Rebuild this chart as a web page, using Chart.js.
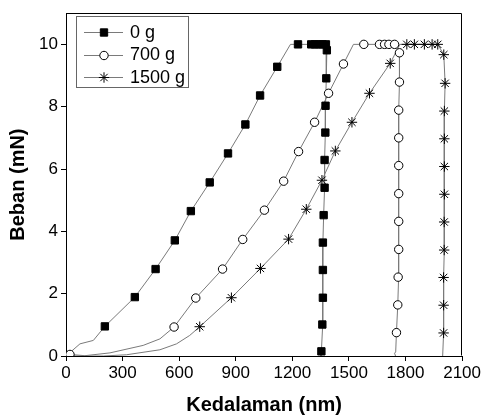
<!DOCTYPE html>
<html><head><meta charset="utf-8">
<script src="https://cdn.jsdelivr.net/npm/chart.js@4"></script>
<style>html,body{margin:0;padding:0;background:#fff}</style>
</head><body>
<canvas id="c" width="483" height="419"></canvas>
<script>
const xTickValues = [0,300,600,900,1200,1500,1800,2100];
const yTickValues = [0,2,4,6,8,10];
const seriesNames = ['0 g','700 g','1500 g'];

// 0 g : markers
const m0x = [206,365,475,577,662,762,859,951,1029,1120,1230,1300,1320,1340,1360,1378,1383,1380,1376,1375,1371,1371,1366,1362,1362,1362,1359,1354];
const m0y = [0.95,1.89,2.79,3.71,4.65,5.57,6.50,7.43,8.36,9.28,10,10,10,10,10,10,9.81,8.91,8.03,7.17,6.29,5.40,4.52,3.64,2.76,1.87,1.01,0.15];
// 0 g : continuous curve
const c0x = [0,74,145,206,365,475,577,662,762,859,951,1029,1120,1190,1230,1378,1383,1380,1376,1375,1371,1371,1366,1362,1362,1362,1359,1354,1352];
const c0y = [0,0.39,0.50,0.95,1.89,2.79,3.71,4.65,5.57,6.50,7.43,8.36,9.28,10,10,10,9.81,8.91,8.03,7.17,6.29,5.40,4.52,3.64,2.76,1.87,1.01,0.15,0];

// 700 g : markers
const m1x = [21,573,688,830,937,1052,1154,1233,1318,1392,1471,1579,1662,1689,1712,1742,1768,1768,1764,1764,1764,1764,1764,1764,1761,1759,1752];
const m1y = [0.05,0.93,1.86,2.79,3.74,4.68,5.61,6.56,7.50,8.43,9.37,10,10,10,10,10,9.73,8.79,7.89,7.00,6.11,5.21,4.32,3.42,2.53,1.64,0.75];
// 700 g : continuous curve
const c1x = [0,21,100,233,409,498,573,688,830,937,1052,1154,1233,1318,1392,1471,1524,1742,1768,1768,1764,1764,1764,1764,1764,1764,1761,1759,1752,1748,1742,1747];
const c1y = [0,0.05,0.01,0.10,0.34,0.55,0.93,1.86,2.79,3.74,4.68,5.61,6.56,7.50,8.43,9.37,10,10,9.73,8.79,7.89,7.00,6.11,5.21,4.32,3.42,2.53,1.64,0.75,0.13,0.09,0];

// 1500 g : markers
const m2x = [709,877,1031,1180,1274,1357,1428,1516,1609,1719,1807,1847,1900,1941,1971,2003,2010,2006,2006,2006,2006,2005,2005,2002,2002,2002];
const m2y = [0.94,1.87,2.81,3.75,4.71,5.64,6.58,7.50,8.43,9.39,10,10,10,10,10,9.67,8.75,7.86,6.97,6.08,5.19,4.30,3.40,2.52,1.63,0.74];
// 1500 g : continuous curve
const c2x = [0,200,321,498,586,656,709,877,1031,1180,1274,1357,1428,1516,1609,1719,1770,1971,2003,2010,2006,2006,2006,2006,2005,2005,2002,2002,2002,1997];
const c2y = [0,0,0.04,0.20,0.39,0.66,0.94,1.87,2.81,3.75,4.71,5.64,6.58,7.50,8.43,9.39,10,10,9.67,8.75,7.86,6.97,6.08,5.19,4.30,3.40,2.52,1.63,0.74,0];

const pts = (xs, ys) => xs.map((x, i) => ({x, y: ys[i]}));

const FONT = "'Liberation Sans', Arial, sans-serif";
const LINE_COLOR = '#7a7a7a';
const markerStyles = [
  {pointStyle:'rect', radius:5.2, bg:'#000', border:'#000'},
  {pointStyle:'circle', radius:4.2, bg:'#fff', border:'#000'},
  {pointStyle:'star', radius:5.2, bg:'#000', border:'#000'}
];
const curves = [pts(c0x,c0y), pts(c1x,c1y), pts(c2x,c2y)];
const markers = [pts(m0x,m0y), pts(m1x,m1y), pts(m2x,m2y)];

const datasets = [];
curves.forEach((d, i) => datasets.push({
  label: seriesNames[i] + ' curve', data: d, showLine: true, borderColor: LINE_COLOR,
  borderWidth: 1, pointRadius: 0, tension: 0, order: 2
}));
markers.forEach((d, i) => datasets.push({
  label: seriesNames[i], data: d, showLine: false,
  pointStyle: markerStyles[i].pointStyle, pointRadius: markerStyles[i].radius,
  pointBackgroundColor: markerStyles[i].bg, pointBorderColor: markerStyles[i].border,
  pointBorderWidth: 1, order: 1
}));

const framePlugin = {
  id: 'frame',
  afterDraw(chart) {
    const {ctx, chartArea: a} = chart;
    ctx.save();
    ctx.strokeStyle = '#000';
    ctx.lineWidth = 1;
    ctx.beginPath();
    ctx.moveTo(Math.round(a.left)+0.5, Math.round(a.top)+0.5);
    ctx.lineTo(Math.round(a.right)-0.5, Math.round(a.top)+0.5);
    ctx.lineTo(Math.round(a.right)-0.5, Math.round(a.bottom)-0.5);
    ctx.stroke();
    // legend
    const bx = 76, by = 16, bw = 112, bh = 71;
    ctx.fillStyle = '#fff';
    ctx.fillRect(bx, by, bw, bh);
    ctx.strokeStyle = '#666';
    ctx.strokeRect(bx+0.5, by+0.5, bw, bh);
    const rows = [32, 54.5, 77];
    rows.forEach((ry, i) => {
      ctx.strokeStyle = LINE_COLOR;
      ctx.lineWidth = 1;
      ctx.beginPath();
      ctx.moveTo(84, Math.round(ry)+0.5);
      ctx.lineTo(123, Math.round(ry)+0.5);
      ctx.stroke();
      const ms = markerStyles[i];
      ctx.fillStyle = ms.bg;
      ctx.strokeStyle = ms.border;
      ctx.lineWidth = 1;
      Chart.helpers.drawPoint(ctx, {pointStyle: ms.pointStyle, radius: ms.radius, borderWidth: 1}, 104, Math.round(ry)+0.5);
      ctx.fillStyle = '#000';
      ctx.font = '18px ' + FONT;
      ctx.textBaseline = 'middle';
      ctx.textAlign = 'left';
      ctx.fillText(seriesNames[i], 130, ry + 1);
    });
    ctx.restore();
  }
};

new Chart(document.getElementById('c'), {
  type: 'scatter',
  data: { datasets },
  plugins: [framePlugin],
  options: {
    responsive: false,
    animation: false,
    layout: { padding: { left: 0, right: 20, top: 9, bottom: 0 } },
    plugins: { legend: { display: false }, tooltip: { enabled: false } },
    scales: {
      x: {
        type: 'linear', min: 0, max: 2100,
        afterFit: s => { s.height = 63; },
        afterBuildTicks: s => { s.ticks = xTickValues.map(v => ({value: v})); },
        ticks: { font: { family: FONT, size: 17 }, color: '#000', padding: 2, maxRotation: 0,
                 callback: v => String(v) },
        grid: { drawOnChartArea: false, tickLength: 5, color: '#000' },
        border: { display: true, color: '#000', width: 1 },
        title: { display: true, text: 'Kedalaman (nm)', color: '#000',
                 font: { family: FONT, size: 20, weight: 'bold' }, padding: { top: 0, bottom: 2 } }
      },
      y: {
        type: 'linear', min: 0, max: 11,
        afterFit: s => { s.width = 66; },
        afterBuildTicks: s => { s.ticks = yTickValues.map(v => ({value: v})); },
        ticks: { font: { family: FONT, size: 17 }, color: '#000', padding: 3,
                 callback: v => String(v) },
        grid: { drawOnChartArea: false, tickLength: 5, color: '#000' },
        border: { display: true, color: '#000', width: 1 },
        title: { display: true, text: 'Beban (mN)', color: '#000',
                 font: { family: FONT, size: 20, weight: 'bold' }, padding: { top: 6, bottom: 0 } }
      }
    }
  }
});
</script>
</body></html>
